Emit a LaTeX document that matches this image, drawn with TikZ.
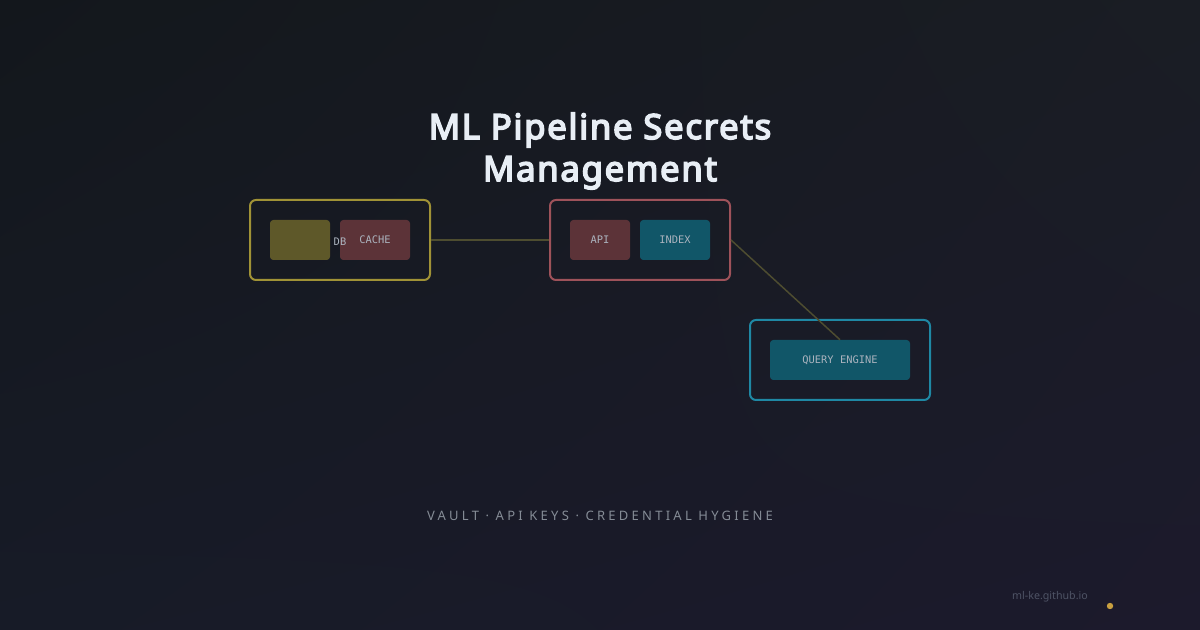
\documentclass[tikz,border=0pt]{standalone}
\usepackage{fontspec}
\setmainfont{Noto Sans}
\newfontfamily\titlef{Noto Sans}[FakeBold=4.5, LetterSpace=5]
\newfontfamily\monof{DejaVu Sans Mono}
\newfontfamily\subf{Noto Sans}[LetterSpace=25]
\usetikzlibrary{positioning,shadings}
\definecolor{bgA}{HTML}{13171C}
\definecolor{bgB}{HTML}{1A1D24}
\definecolor{bgC}{HTML}{171B27}
\definecolor{bgD}{HTML}{1C1A2C}
\definecolor{yelB}{HTML}{A09236}
\definecolor{yelF}{HTML}{5E5829}
\definecolor{redB}{HTML}{9E525A}
\definecolor{redF}{HTML}{5C3338}
\definecolor{tealB}{HTML}{1F88A4}
\definecolor{tealF}{HTML}{115668}
\definecolor{wire}{HTML}{4E4D30}
\definecolor{titleC}{HTML}{E8EEF5}
\definecolor{labC}{HTML}{ABB3BE}
\definecolor{subC}{HTML}{858C96}
\definecolor{footC}{HTML}{4E5365}
\definecolor{dotC}{HTML}{C9A040}
\tikzset{
  grp/.style={draw=#1, line width=1.5pt, rounded corners=4.5pt, minimum width=135pt, minimum height=60pt, inner sep=0pt},
  boxfont/.style={font=\monof\fontsize{7.8}{9}\selectfont, text=labC},
  box/.style={fill=#1, rounded corners=2.5pt, minimum height=30pt, inner sep=0pt, boxfont},
  wirel/.style={draw=wire, line width=1.1pt},
}
\begin{document}
\begin{tikzpicture}[x=0.75pt,y=-0.75pt]
\useasboundingbox (0,0) rectangle (1200,630);
\shade[upper left=bgA, upper right=bgB, lower left=bgC, lower right=bgD] (0,0) rectangle (1200,630);
% title
\node[text=titleC, font=\titlef\fontsize{26}{31.5}\selectfont, align=center] (title) at (600,151) {ML Pipeline Secrets\\Management};
% groups
\node[grp=yelB] (g1) at (340,240) {};
\node[grp=redB] (g2) at (640,240) {};
\node[grp=tealB] (g3) at (840,360) {};
% inner boxes
\node[box=yelF, minimum width=45pt] (db) at (300,240) {};
\node[box=redF, minimum width=52.5pt] (cache) at (375,240) {CACHE};
\node[boxfont, inner sep=0pt] (dblab) at (340,241.5) {DB};
\node[box=redF, minimum width=45pt] (api) at (600,240) {API};
\node[box=tealF, minimum width=52.5pt] (index) at (675,240) {INDEX};
\node[box=tealF, minimum width=105pt] (qe) at (840,360) {QUERY ENGINE};
% connectors
\draw[wirel] (g1.east) -- (g2.west);
\draw[wirel] (g2.east) -- (qe.north);
% subtitle
\node[text=subC, font=\subf\fontsize{9.75}{12}\selectfont] (sub) at (600,515.5) {VAULT · API KEYS · CREDENTIAL HYGIENE};
% footer
\node[text=footC, font=\fontsize{8}{10}\selectfont] (foot) at (1050,596.5) {ml-ke.github.io};
\fill[dotC] (1110,606) circle (2.4pt);
\end{tikzpicture}
\end{document}
